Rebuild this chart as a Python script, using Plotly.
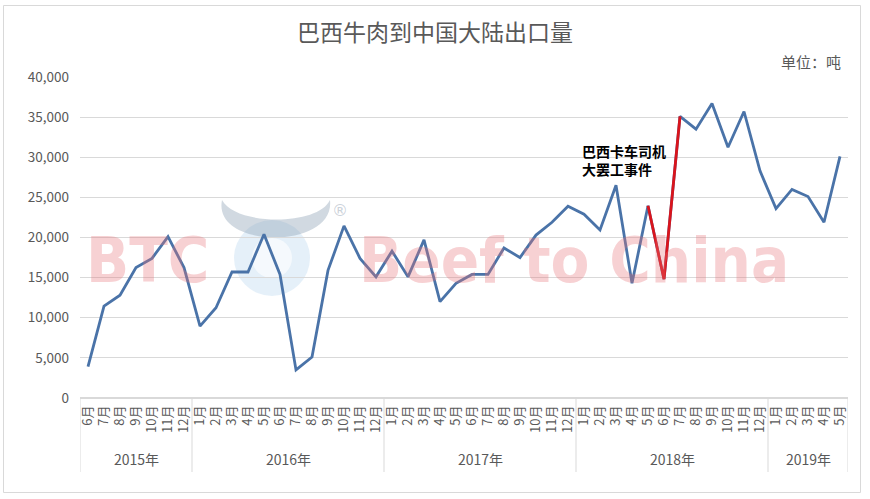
import plotly.graph_objects as go

# ---- data ----
year_names = ["2015年", "2016年", "2017年", "2018年", "2019年"]
year_months = [list(range(6, 13)), list(range(1, 13)), list(range(1, 13)), list(range(1, 13)), list(range(1, 6))]
exports = [3900, 11450, 12800, 16250, 17400, 20100, 16250,
           8950, 11250, 15700, 15700, 20400, 15400, 3500, 5100, 15900, 21450, 17400, 15100,
           18300, 15100, 19700, 12000, 14300, 15400, 15400, 18700, 17500, 20300, 21900, 23900,
           22900, 20950, 26500, 14300, 23950, 14800, 35100, 33500, 36700, 31250, 35700, 28300,
           23600, 26000, 25100, 21900, 30100]
strike_idx = [35, 36, 37]  # 2018年 5月-7月
y_ticks = [0, 5000, 10000, 15000, 20000, 25000, 30000, 35000, 40000]

title_text = "巴西牛肉到中国大陆出口量"
unit_text = "单位：吨"
note_text = "<b>巴西卡车司机<br>大罢工事件</b>"

# category keys and displayed month labels
cats = [f"{y}{m}月" for y, ms in zip(year_names, year_months) for m in ms]
month_labels = [f"{m}月" for ms in year_months for m in ms]

W, H = 870, 499
L, R, T, B = 80, 22, 77, 101
PW, PH = W - L - R, H - T - B


def px(x):
    return (x - L) / PW


def py(y):
    return (H - B - y) / PH


FONT = "Noto Sans CJK SC, Microsoft YaHei, sans-serif"
GRAY = "#595959"
DIV = "#D9D9D9"

fig = go.Figure()
fig.add_trace(go.Scatter(
    x=cats, y=exports, mode="lines",
    line=dict(color="#4A73A8", width=2.8), hoverinfo="y", showlegend=False))
fig.add_trace(go.Scatter(
    x=[cats[i] for i in strike_idx], y=[exports[i] for i in strike_idx], mode="lines",
    line=dict(color="#D9141C", width=2.8), hoverinfo="y", showlegend=False))

shapes = []
# outer border
shapes.append(dict(type="rect", xref="paper", yref="paper",
                   x0=px(3.5), x1=px(860.5), y0=py(492.5), y1=py(5.5),
                   line=dict(color=DIV, width=1), fillcolor="rgba(0,0,0,0)", layer="below"))
# year dividers + year labels
annotations = []
start = 0
bounds = [-0.5]
for yname, ms in zip(year_names, year_months):
    n = len(ms)
    bounds.append(start + n - 0.5)
    annotations.append(dict(text=yname, x=start + (n - 1) / 2, y=py(459), xref="x", yref="paper",
                            showarrow=False, font=dict(family=FONT, size=14, color=GRAY),
                            xanchor="center", yanchor="middle"))
    start += n
for b in bounds:
    shapes.append(dict(type="line", xref="x", yref="paper", x0=b, x1=b, y0=0, y1=py(472),
                       line=dict(color=DIV, width=1)))

# watermark logo (decorative)
cx, cy, r = 272, 258, 38
shapes.append(dict(type="circle", xref="paper", yref="paper",
                   x0=px(cx - r), x1=px(cx + r), y0=py(cy + r), y1=py(cy - r),
                   line=dict(width=0), fillcolor="rgba(170,205,235,0.30)", layer="below"))
shapes.append(dict(type="circle", xref="paper", yref="paper",
                   x0=px(cx - 20), x1=px(cx + 20), y0=py(cy + 20), y1=py(cy - 20),
                   line=dict(width=0), fillcolor="rgba(255,255,255,0.6)", layer="below"))


def pth(points):
    s = ""
    for cmd, pts in points:
        s += cmd + " " + " ".join(f"{px(a):.4f},{py(b):.4f}" for a, b in pts) + " "
    return s + "Z"


horn = pth([("M", [(222, 200)]),
            ("C", [(212, 250), (336, 250), (330, 200)]),
            ("C", [(318, 226), (236, 226), (222, 200)])])
shapes.append(dict(type="path", xref="paper", yref="paper", path=horn,
                   line=dict(width=0), fillcolor="rgba(140,160,180,0.40)", layer="below"))

WM = dict(family="DejaVu Sans Condensed, DejaVu Sans, Liberation Sans", size=63, weight="bold",
          color="rgba(230,115,120,0.33)")
annotations += [
    dict(text=title_text, x=px(435), y=py(31), xref="paper", yref="paper",
         showarrow=False, font=dict(family=FONT, size=23, color=GRAY),
         xanchor="center", yanchor="middle"),
    dict(text=unit_text, x=px(843), y=py(61), xref="paper", yref="paper",
         showarrow=False, font=dict(family=FONT, size=15, color=GRAY),
         xanchor="right", yanchor="middle"),
    dict(text=note_text, x=px(580), y=py(160), xref="paper", yref="paper",
         showarrow=False, align="left", font=dict(family=FONT, size=14, color="#000000"),
         xanchor="left", yanchor="middle"),
    dict(text="<b>BTC</b>", x=px(147), y=py(260), xref="paper", yref="paper",
         showarrow=False, font=WM, xanchor="center", yanchor="middle"),
    dict(text="<b>Beef to China</b>", x=px(574), y=py(260), xref="paper", yref="paper",
         showarrow=False, font=WM, xanchor="center", yanchor="middle"),
    dict(text="®", x=px(340), y=py(210), xref="paper", yref="paper",
         showarrow=False, font=dict(family="DejaVu Sans", size=16, color="rgba(150,165,180,0.5)"),
         xanchor="center", yanchor="middle"),
]

fig.update_layout(
    width=W, height=H, autosize=False,
    margin=dict(l=L, r=R, t=T, b=B),
    paper_bgcolor="white", plot_bgcolor="white",
    shapes=shapes, annotations=annotations,
    font=dict(family=FONT, color=GRAY),
    xaxis=dict(
        type="category", categoryorder="array", categoryarray=cats,
        tickvals=cats, ticktext=month_labels, range=[-0.5, len(cats) - 0.5],
        tickangle=-90, tickfont=dict(size=13, color=GRAY, family=FONT),
        showgrid=False, showline=False, ticks="", zeroline=False, ticklabelstandoff=4,
    ),
    yaxis=dict(
        range=[0, 40000], tickvals=y_ticks, tickformat=",",
        tickfont=dict(size=13.5, color=GRAY, family=FONT),
        gridcolor=DIV, gridwidth=1, zeroline=True, zerolinecolor=DIV,
        showline=False, ticks="", ticklabelstandoff=10,
    ),
)

fig.write_html("out.html")
